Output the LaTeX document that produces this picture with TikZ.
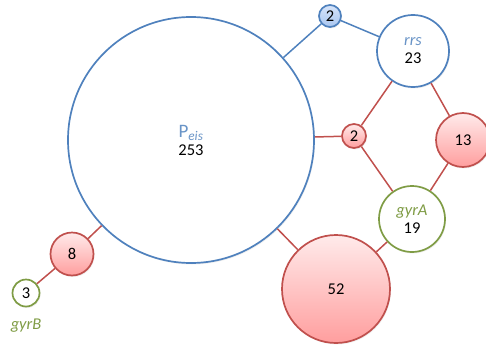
\documentclass[tikz,border=0pt]{standalone}
\usepackage{fontspec}
\setmainfont{Carlito}
\usepackage{tikz}
\usetikzlibrary{
    calc,
    positioning,
    shadows
}
\definecolor{locusblue}{HTML}{4F81BD}
\definecolor{locusred}{HTML}{C0504D}
\definecolor{locusgreen}{HTML}{7F9C45}
\definecolor{dottop}{HTML}{D6E4FA}
\definecolor{dotbottom}{HTML}{A9C6F0}
\tikzset{
    % common look of every circle
    locus/.style={
        circle, line width=1.7pt, inner sep=0pt, align=center,
        font=\fontsize{16.5}{18}\selectfont,
        minimum size=#1,
        drop shadow={shadow xshift=1pt, shadow yshift=-1.5pt, opacity=0.12}
    },
    bluelocus/.style={locus=#1, draw=locusblue, fill=white},
    greenlocus/.style={locus=#1, draw=locusgreen, fill=white},
    redlocus/.style={locus=#1, draw=locusred,
        top color=red!8, bottom color=red!38},
    bluedot/.style={locus=#1, draw=locusblue,
        top color=dottop, bottom color=dotbottom},
    % connectors
    blueedge/.style={draw=locusblue, line width=1.5pt},
    rededge/.style={draw=locusred, line width=1.5pt}
}
\begin{document}
\begin{tikzpicture}[x=1pt, y=-1pt]
            \useasboundingbox (0,0) rectangle (486,345);
            \node[bluelocus=246pt] (peis) at (191,140)
                {\textcolor{locusblue!85}{\fontsize{19}{20}\selectfont P\textsubscript{\itshape eis}}\\253};
            \node[bluedot=22pt] (bluetwo) at (330,16) {2};
            \node[bluelocus=72pt] (rrs) at (413,51)
                {\textcolor{locusblue!85}{\itshape rrs}\\23};
            \node[redlocus=24pt] (redtwo) at (354,136) {2};
            \node[redlocus=54pt] (thirteen) at (463,140) {13};
            \node[greenlocus=66pt] (gyra) at (412,219)
                {\textcolor{locusgreen}{\itshape gyrA}\\19};
            \node[redlocus=108pt] (fiftytwo) at (336,289) {52};
            \node[redlocus=43pt] (eight) at (72,254) {8};
            \node[greenlocus=27pt] (gyrbdot) at (26,293) {3};
            \node[font=\fontsize{16.5}{18}\selectfont\itshape, text=locusgreen,
                below=8pt of gyrbdot] (gyrb) {gyrB};
            \begin{scope}
                \draw[blueedge] (peis) -- (bluetwo);
                \draw[blueedge] (bluetwo) -- (rrs);
                \draw[rededge] (peis) -- (redtwo);
                \draw[rededge] (redtwo) -- (rrs);
                \draw[rededge] (redtwo) -- (gyra);
                \draw[rededge] (rrs) -- (thirteen);
                \draw[rededge] (thirteen) -- (gyra);
                \draw[rededge] (peis) -- (fiftytwo);
                \draw[rededge] (gyra) -- (fiftytwo);
                \draw[rededge] (peis) -- (eight);
                \draw[rededge] (eight) -- (gyrbdot);
            \end{scope}
        \end{tikzpicture}
\end{document}
